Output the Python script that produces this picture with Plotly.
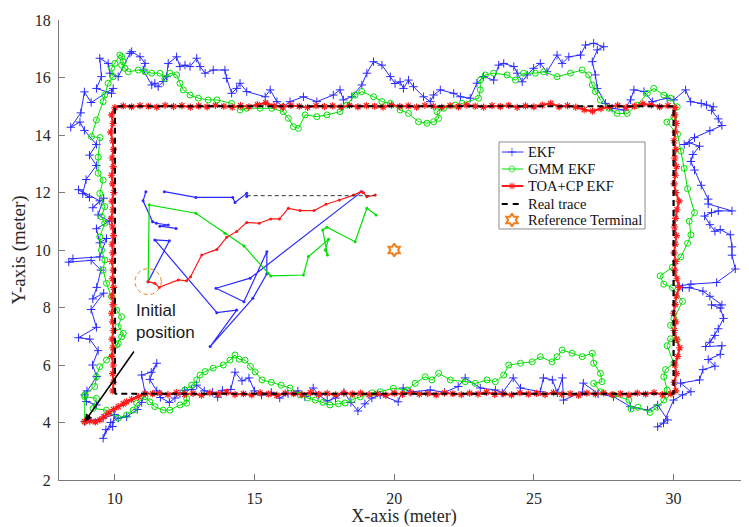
import plotly.graph_objects as go

# ---------------- data (metres) ----------------
REAL_X = [10, 10, 30, 30, 10]
REAL_Y = [5, 15, 15, 5, 5]

REF_TERMINAL_X = [20]
REF_TERMINAL_Y = [10]

EKF_XY = [
    (8.92, 4.03), (9.58, 4.15), (9.98, 4.27), (9.92, 3.86), (9.68, 3.75), (9.58, 3.45), (9.85, 4.0),
    (10.12, 4.15), (10.42, 4.2), (10.8, 4.45), (10.96, 4.7), (11.08, 5.02), (10.96, 5.65), (11.3, 5.75),
    (11.5, 6.06), (11.25, 5.5), (11.5, 5.1), (11.63, 4.87), (11.95, 4.7), (12.15, 4.85), (12.33, 5.0),
    (12.5, 5.12), (12.75, 5.15), (12.93, 5.3), (13.2, 5.1), (13.5, 5.05), (13.68, 4.88), (13.85, 5.12),
    (14.15, 5.15), (14.3, 5.75), (14.55, 5.45), (14.8, 5.55), (15.0, 5.1), (15.25, 4.95), (15.6, 5.05),
    (15.9, 4.85), (16.2, 5.0), (16.55, 5.1), (16.8, 4.9), (17.1, 5.2), (17.3, 4.95), (17.6, 4.75),
    (17.9, 4.85), (18.2, 5.05), (18.45, 4.7), (18.7, 4.4), (18.95, 4.65), (19.2, 4.85), (19.5, 4.96),
    (20.14, 4.72), (20.32, 5.2), (20.57, 5.06), (21.29, 5.13), (21.8, 5.05), (22.29, 5.25), (22.54, 5.55),
    (23.08, 5.2), (23.62, 5.13), (23.87, 5.03), (24.26, 5.55), (24.52, 5.2), (25.23, 5.07), (25.34, 5.55),
    (25.66, 5.48), (25.84, 5.03), (26.02, 5.55), (26.06, 4.78), (26.74, 5.06), (26.77, 5.37), (27.3, 5.0),
    (27.85, 4.9), (28.46, 4.55), (29.07, 4.43), (29.43, 4.61), (29.79, 4.09), (29.43, 3.85), (29.64, 3.98),
    (30.0, 4.78), (30.32, 4.96), (30.62, 5.07), (30.25, 5.37), (30.93, 5.48), (31.05, 5.84), (31.48, 5.96),
    (31.24, 6.19), (31.67, 6.37), (31.73, 6.67), (31.15, 6.64), (31.48, 7.03), (31.30, 6.79), (31.60, 7.26),
    (31.79, 7.62), (31.67, 7.98), (31.36, 8.09), (31.73, 8.09), (31.30, 8.39), (31.05, 8.57), (30.56, 8.69),
    (30.32, 8.69), (30.20, 8.75), (30.62, 8.81), (31.54, 8.87), (32.21, 9.34), (32.09, 9.82), (32.09, 10.11),
    (32.03, 10.53), (31.67, 10.71), (31.48, 10.65), (31.30, 10.88), (31.11, 11.18), (31.36, 11.30),
    (31.60, 11.36), (32.09, 11.36), (31.24, 11.60), (31.24, 11.77), (30.99, 12.25), (30.75, 12.78),
    (30.62, 13.08), (30.69, 13.32), (30.93, 13.61), (30.56, 13.73), (30.38, 13.67), (30.75, 13.91),
    (31.30, 14.15), (31.73, 14.33), (31.60, 14.56), (31.36, 14.86), (31.42, 14.98), (31.18, 15.04),
    (30.99, 15.10), (30.61, 15.16), (30.43, 15.57), (30.01, 15.22), (29.77, 15.28), (29.24, 15.16),
    (28.94, 15.51), (28.58, 15.57), (28.46, 15.22), (28.22, 14.87), (27.80, 14.93), (27.56, 15.10),
    (27.27, 15.62), (27.20, 16.09), (27.09, 16.55), (27.27, 16.96), (27.50, 17.07), (27.14, 17.19),
    (26.85, 17.13), (26.67, 16.78), (26.25, 16.72), (26.01, 16.49), (25.83, 16.78), (25.47, 16.20),
    (25.23, 16.49), (24.99, 16.32), (24.76, 16.09), (24.58, 15.85), (24.40, 16.15), (24.28, 16.38),
    (23.92, 16.49), (23.74, 16.43), (23.56, 15.91), (23.20, 16.03), (22.96, 15.80), (22.72, 15.28),
    (22.37, 15.33), (22.13, 15.45), (21.65, 15.57), (21.41, 15.39), (21.29, 15.16), (21.05, 15.33),
    (20.69, 15.68), (20.51, 15.91), (20.33, 15.62), (20.21, 15.85), (20.03, 15.79), (19.86, 16.03),
    (19.56, 16.43), (19.26, 16.55), (19.02, 16.15), (18.84, 15.74), (18.48, 15.33), (18.18, 15.22),
    (18.06, 15.57), (17.82, 15.39), (17.23, 15.16), (16.75, 15.33), (16.27, 15.16), (16.03, 14.98),
    (15.80, 15.16), (15.56, 15.57), (15.38, 15.33), (14.72, 15.51), (14.48, 15.80), (14.36, 15.62),
    (14.18, 15.45), (14.00, 15.97), (13.94, 16.26), (13.52, 16.26), (13.23, 16.15), (13.05, 16.38),
    (12.93, 16.67), (12.69, 16.38), (12.51, 16.43), (12.33, 16.38), (12.21, 16.72), (11.91, 16.49),
    (11.85, 16.03), (11.73, 15.86), (11.55, 15.68), (11.43, 15.80), (11.32, 15.74), (11.01, 16.26),
    (11.08, 16.49), (10.90, 16.72), (10.60, 16.90), (10.54, 16.84), (10.12, 16.03), (9.82, 16.15),
    (9.76, 16.49), (9.46, 16.67), (9.52, 16.03), (9.34, 15.62), (9.88, 15.45), (9.94, 15.62),
    (9.15, 15.13), (8.91, 15.5), (8.78, 14.77), (8.42, 14.27), (8.75, 14.45), (8.91, 14.16), (9.34, 13.67),
    (9.09, 13.3), (9.34, 12.94), (8.97, 12.45), (8.85, 11.96), (9.09, 11.83), (8.7, 12.1), (9.46, 11.71),
    (9.21, 11.47), (9.6, 11.8), (9.40, 11.22), (9.8, 11.0), (9.34, 10.74), (9.46, 10.25), (9.7, 10.4),
    (9.46, 9.76), (8.5, 9.7), (8.35, 9.58), (9.15, 9.64), (9.5, 9.3), (9.35, 8.7), (9.21, 8.30), (9.6, 8.5),
    (9.15, 7.93), (9.34, 7.31), (8.7, 6.95), (9.1, 6.9), (9.4, 6.5), (9.2, 6.0), (9.35, 5.6), (9.0, 5.1),
    (8.92, 4.96), (8.98, 4.73), (9.34, 4.61),
]

GMM_XY = [
    (8.92, 4.03), (8.92, 4.9), (9.34, 4.84), (9.22, 4.49), (9.70, 4.43), (10.12, 4.15), (10.42, 4.26),
    (10.66, 4.43), (10.78, 4.67), (11.08, 4.90), (11.25, 4.72), (11.43, 4.55), (11.73, 4.43), (11.97, 4.43),
    (12.33, 4.61), (12.57, 4.67), (12.57, 4.84), (12.51, 5.13), (12.75, 5.30), (12.93, 5.48), (13.05, 5.65),
    (13.23, 5.77), (13.52, 5.89), (13.88, 6.00), (14.12, 6.17), (14.30, 6.35), (14.45, 6.2), (14.66, 6.17),
    (14.85, 5.95), (15.02, 5.76), (15.27, 5.48), (15.6, 5.4), (15.95, 5.3), (16.27, 5.20), (16.63, 4.96),
    (16.9, 4.85), (17.17, 4.78), (17.45, 4.7), (17.70, 4.61), (18.0, 4.65), (18.24, 4.68), (18.5, 4.8),
    (18.78, 4.89), (19.21, 5.03), (19.50, 5.07), (19.97, 5.19), (20.46, 5.13), (20.75, 5.36), (21.11, 5.59),
    (21.35, 5.48), (21.59, 5.71), (22.01, 5.48), (22.54, 5.42), (22.90, 5.36), (23.32, 5.48), (23.62, 5.42),
    (23.92, 5.65), (24.10, 6.00), (24.52, 6.06), (24.94, 6.11), (25.23, 6.29), (25.65, 6.11), (25.83, 6.29),
    (26.01, 6.52), (26.37, 6.41), (26.73, 6.29), (27.09, 6.41), (27.14, 6.06), (27.38, 5.71), (27.44, 5.42),
    (27.14, 5.36), (27.38, 5.07), (27.86, 4.96), (28.40, 4.78), (28.48, 4.47), (28.73, 4.53), (29.16, 4.35),
    (29.40, 4.53), (29.65, 4.78), (29.71, 4.95), (29.77, 5.13), (29.65, 5.59), (29.71, 5.84), (30.01, 6.06),
    (29.77, 6.67), (29.89, 6.91), (30.13, 6.87), (29.89, 7.38), (30.01, 7.62), (30.32, 8.21), (29.96, 8.69),
    (29.65, 8.81), (29.52, 9.10), (29.96, 9.40), (30.26, 9.76), (30.50, 10.23), (30.62, 10.53),
    (30.56, 11.00), (30.75, 11.30), (30.50, 12.13), (30.38, 12.84), (30.26, 13.44), (30.14, 14.03),
    (29.76, 14.45), (30.01, 14.63), (30.13, 14.98), (29.89, 15.28), (29.65, 15.39), (29.29, 15.62),
    (29.06, 15.45), (28.70, 15.04), (28.34, 14.75), (27.98, 14.75), (27.68, 14.93), (27.38, 15.22),
    (27.20, 15.51), (27.09, 15.74), (26.96, 16.09), (26.73, 16.26), (26.31, 16.15), (25.83, 16.03),
    (25.35, 16.20), (25.05, 16.15), (24.63, 16.15), (24.34, 15.91), (24.04, 16.09), (23.56, 16.15),
    (23.26, 16.09), (23.08, 15.91), (23.08, 15.57), (23.02, 15.28), (22.43, 15.10), (22.19, 15.04),
    (21.77, 14.93), (21.53, 14.81), (21.59, 14.58), (21.41, 14.46), (21.17, 14.41), (20.87, 14.46),
    (20.51, 14.75), (20.21, 14.87), (19.86, 15.10), (19.56, 15.16), (19.26, 15.33), (18.84, 15.51),
    (18.60, 15.39), (18.30, 15.04), (18.06, 14.81), (17.59, 14.70), (17.23, 14.64), (16.81, 14.70),
    (16.57, 14.23), (16.39, 14.29), (16.21, 14.58), (16.03, 14.81), (15.62, 14.93), (15.20, 14.93),
    (14.72, 14.93), (14.48, 14.87), (14.18, 15.10), (13.65, 15.22), (13.34, 15.22), (12.99, 15.28),
    (12.69, 15.39), (12.45, 15.57), (12.33, 15.80), (12.21, 16.09), (11.97, 16.15), (11.79, 15.97),
    (11.61, 16.15), (11.32, 16.15), (11.08, 16.20), (10.84, 16.26), (10.48, 16.20), (10.36, 16.32),
    (10.24, 16.43), (10.30, 16.55), (10.24, 16.72), (10.18, 16.78), (10.00, 16.49), (9.88, 16.32),
    (9.94, 16.03), (9.76, 15.80), (9.64, 15.39), (9.58, 15.16), (9.34, 14.52), (9.16, 13.94), (9.47, 13.91),
    (9.40, 13.23), (9.40, 12.67), (9.58, 12.43), (9.46, 11.97), (9.64, 11.51), (9.52, 11.16), (9.64, 10.93),
    (9.46, 10.46), (9.52, 10.0), (9.64, 9.65), (9.58, 9.30), (9.70, 8.84), (9.88, 8.38), (10.06, 7.91),
    (10.24, 7.68), (10.12, 7.33), (10.30, 7.10), (10.24, 6.98), (10.06, 6.70), (10.12, 6.75), (9.70, 6.17),
    (9.46, 5.94), (9.34, 5.59), (9.28, 5.25), (8.92, 4.96),
]

TOA_START_XY = [
    (8.92, 4.03), (9.1, 4.05), (9.3, 4.02), (9.46, 4.09), (9.6, 4.2), (9.76, 4.32), (9.95, 4.45),
    (10.12, 4.55), (10.3, 4.65), (10.42, 4.72), (10.6, 4.8), (10.84, 4.9), (11.08, 5.01), (11.35, 5.0),
]
TOA_BOTTOM_X = [11.6, 11.9, 12.2, 12.5, 12.8, 13.1, 13.4, 13.7, 14.0, 14.3, 14.6, 14.9, 15.2, 15.5, 15.8,
                16.1, 16.4, 16.7, 17.0, 17.3, 17.6, 17.9, 18.2, 18.5, 18.8, 19.1, 19.4, 19.7, 20.0, 20.3,
                20.6, 20.9, 21.2, 21.5, 21.8, 22.1, 22.4, 22.7, 23.0, 23.3, 23.6, 23.9, 24.2, 24.5, 24.8,
                25.1, 25.4, 25.7, 26.0, 26.3, 26.6, 26.9, 27.2, 27.5, 27.8, 28.1, 28.4, 28.7, 29.0, 29.3,
                29.6, 29.9]
TOA_BOTTOM_Y = [5.02, 4.97, 5.04, 4.98, 5.01, 4.95, 5.03, 4.99, 5.05, 4.97, 5.0, 4.96, 5.03, 4.99, 4.95,
                5.02, 5.0, 4.97, 5.04, 4.98, 5.01, 4.96, 5.03, 4.99, 5.02, 4.97, 5.0, 4.95, 5.02, 4.98,
                5.04, 4.99, 5.01, 4.96, 5.03, 5.0, 4.97, 5.02, 4.99, 5.05, 4.98, 5.0, 4.96, 5.03, 4.99,
                5.01, 4.97, 5.04, 4.98, 5.0, 4.95, 5.02, 4.99, 5.03, 4.97, 5.0, 4.96, 5.02, 4.99, 5.04,
                4.97, 5.0]
TOA_RIGHT_Y = [5.1, 5.4, 5.7, 6.0, 6.3, 6.6, 6.9, 7.2, 7.5, 7.8, 8.1, 8.4, 8.7, 9.0, 9.3, 9.6, 9.9, 10.2,
               10.5, 10.8, 11.1, 11.4, 11.7, 12.0, 12.3, 12.6, 12.9, 13.2, 13.5, 13.8, 14.1, 14.4, 14.7, 14.95]
TOA_RIGHT_X = [30.08, 30.02, 30.1, 30.05, 30.15, 30.22, 30.1, 30.03, 30.08, 30.0, 30.06, 30.1, 30.2, 30.12,
               30.04, 30.08, 30.02, 30.06, 30.1, 30.03, 30.07, 30.12, 30.2, 30.08, 30.02, 30.06, 30.1, 30.04,
               30.08, 30.02, 30.06, 30.1, 30.04, 30.05]
TOA_TOP_X = [29.8, 29.5, 29.2, 28.9, 28.6, 28.3, 28.0, 27.7, 27.4, 27.1, 26.8, 26.5, 26.2, 25.9, 25.6, 25.3,
             25.0, 24.7, 24.4, 24.1, 23.8, 23.5, 23.2, 22.9, 22.6, 22.3, 22.0, 21.7, 21.4, 21.1, 20.8, 20.5,
             20.2, 19.9, 19.6, 19.3, 19.0, 18.7, 18.4, 18.1, 17.8, 17.5, 17.2, 16.9, 16.6, 16.3, 16.0, 15.7,
             15.4, 15.1, 14.8, 14.5, 14.2, 13.9, 13.6, 13.3, 13.0, 12.7, 12.4, 12.1, 11.8, 11.5, 11.2, 10.9,
             10.6, 10.3, 10.0]
TOA_TOP_Y = [15.02, 14.98, 15.05, 15.08, 15.0, 14.96, 15.03, 14.97, 14.92, 14.83, 14.88, 14.97, 15.02, 14.98,
             15.1, 15.04, 14.98, 15.01, 14.96, 15.03, 14.99, 15.02, 14.97, 15.0, 15.04, 14.98, 15.02, 14.96,
             15.0, 15.03, 14.97, 15.01, 14.99, 15.04, 14.97, 15.0, 15.02, 14.98, 15.03, 14.97, 15.01, 14.99,
             15.02, 14.96, 15.0, 15.03, 14.98, 15.01, 15.12, 15.05, 14.98, 15.02, 14.97, 15.0, 15.03, 14.98,
             15.01, 14.97, 15.02, 14.99, 15.03, 14.97, 15.0, 15.02, 14.98, 15.01, 14.95]
TOA_LEFT_Y = [14.7, 14.4, 14.1, 13.8, 13.5, 13.2, 12.9, 12.6, 12.3, 12.0, 11.7, 11.4, 11.1, 10.8, 10.5, 10.2,
              9.9, 9.6, 9.3, 9.0, 8.7, 8.4, 8.1, 7.8, 7.5, 7.2, 6.9, 6.6, 6.3, 6.0, 5.7, 5.4, 5.1]
TOA_LEFT_X = [9.88, 9.93, 9.85, 9.92, 9.95, 9.9, 9.94, 9.88, 9.92, 9.96, 9.9, 9.93, 9.87, 9.92, 9.95, 9.9,
              9.93, 9.89, 9.94, 9.91, 9.95, 9.9, 9.93, 9.88, 9.92, 9.95, 9.9, 9.93, 9.89, 9.94, 9.92, 9.95, 9.93]

# inset: magnified first steps of each filter
INSET_TOA_XY = [
    (11.19, 8.90), (11.43, 8.84), (11.59, 8.70), (12.27, 8.96), (12.57, 8.93), (12.71, 9.07), (13.11, 9.83),
    (13.65, 10.02), (14.00, 10.44), (14.36, 10.64), (14.72, 10.96), (15.17, 10.93), (15.58, 11.08),
    (15.89, 11.08), (16.21, 11.45), (16.63, 11.37), (17.13, 11.37), (17.56, 11.59), (18.04, 11.74),
    (18.54, 11.91), (18.81, 12.03), (18.90, 11.99), (19.02, 11.85), (19.32, 11.91),
]
INSET_GMM_XY = [
    (11.19, 8.90), (11.23, 11.57), (12.90, 11.28), (13.94, 10.58), (14.62, 10.14), (15.49, 9.19),
    (15.58, 9.10), (16.75, 9.13), (16.93, 9.77), (17.65, 10.37), (17.53, 10.0), (17.61, 9.83),
    (17.44, 10.70), (17.59, 10.79), (18.60, 10.29), (19.02, 11.45), (19.35, 11.22),
]
INSET_EKF_XY = [
    (11.19, 8.90), (11.95, 10.32), (11.43, 10.35), (13.65, 7.82), (14.36, 7.91), (13.41, 6.64),
    (14.94, 8.32), (15.44, 9.17), (15.44, 9.94), (14.62, 8.20), (13.62, 8.67), (14.84, 9.02), (18.84, 12.03),
]
INSET_EKF_TOP_XY = [(11.77, 12.03), (12.90, 11.83), (14.22, 11.83), (14.30, 11.65), (14.72, 11.97), (14.72, 11.86)]
INSET_EKF_LEFT_XY = [(11.11, 12.03), (11.01, 11.71), (11.35, 10.98), (11.49, 10.93), (11.91, 10.87),
                     (11.61, 10.83), (12.19, 10.75)]
INSET_REAL_X = [14.72, 19.32]
INSET_REAL_Y = [11.89, 11.89]

X_TICKS = [10, 15, 20, 25, 30]
Y_TICKS = [2, 4, 6, 8, 10, 12, 14, 16, 18]

LEGEND_NAMES = ["EKF", "GMM EKF", "TOA+CP EKF", "Real trace", "Reference Terminal"]


def split(pairs):
    return [p[0] for p in pairs], [p[1] for p in pairs]


ekf_x, ekf_y = split(EKF_XY)
gmm_x, gmm_y = split(GMM_XY)
s_x, s_y = split(TOA_START_XY)
toa_x = s_x + TOA_BOTTOM_X + TOA_RIGHT_X + TOA_TOP_X + TOA_LEFT_X
toa_y = s_y + TOA_BOTTOM_Y + TOA_RIGHT_Y + TOA_TOP_Y + TOA_LEFT_Y

BLUE = "#2a2aff"
GREEN = "#00e000"
RED = "#ff1a1a"
ORANGE = "#f07f1c"
SERIF = "Liberation Serif"

STYLES = [
    dict(mode="lines+markers", line=dict(color=BLUE, width=1),
         marker=dict(symbol="cross-thin-open", size=6, color=BLUE, line=dict(color=BLUE, width=1))),
    dict(mode="lines+markers", line=dict(color=GREEN, width=1),
         marker=dict(symbol="circle-open", size=6, color=GREEN, line=dict(color=GREEN, width=1))),
    dict(mode="lines+markers", line=dict(color=RED, width=2),
         marker=dict(symbol="asterisk-open", size=6, color=RED, line=dict(color=RED, width=1.2))),
    dict(mode="lines", line=dict(color="black", width=2.2, dash="6px,4px")),
    dict(mode="markers", marker=dict(symbol="hexagram-open", size=10, color=ORANGE,
                                     line=dict(color=ORANGE, width=2))),
]

fig = go.Figure()
series = [(ekf_x, ekf_y), (gmm_x, gmm_y), (toa_x, toa_y), (REAL_X, REAL_Y), (REF_TERMINAL_X, REF_TERMINAL_Y)]
for (sx, sy), name, st in zip(series, LEGEND_NAMES, STYLES):
    fig.add_trace(go.Scatter(x=sx, y=sy, name=name, showlegend=False, **st))

# inset traces
for pairs, col in [(INSET_EKF_TOP_XY, BLUE), (INSET_EKF_LEFT_XY, BLUE), (INSET_EKF_XY, BLUE),
                   (INSET_GMM_XY, GREEN), (INSET_TOA_XY, RED)]:
    ix, iy = split(pairs)
    fig.add_trace(go.Scatter(x=ix, y=iy, mode="lines+markers", showlegend=False, hoverinfo="skip",
                             line=dict(color=col, width=1.2), marker=dict(color=col, size=3)))
fig.add_trace(go.Scatter(x=INSET_REAL_X, y=INSET_REAL_Y, mode="lines", showlegend=False, hoverinfo="skip",
                         line=dict(color="#333333", width=1, dash="4px,3px")))

fig.add_shape(type="circle", xref="x", yref="y", x0=10.72, x1=11.66, y0=8.45, y1=9.35,
              line=dict(color=ORANGE, width=1, dash="4px,3px"))

fig.add_annotation(x=8.92, y=4.03, ax=10.72, ay=6.52, xref="x", yref="y", axref="x", ayref="y",
                   text="", showarrow=True, arrowhead=2, arrowsize=1, arrowwidth=1.5, arrowcolor="black")
fig.add_annotation(x=10.68, y=7.5, xref="x", yref="y", text="Initial<br>position", showarrow=False,
                   xanchor="left", yanchor="middle", align="left",
                   font=dict(family="Liberation Sans", size=17, color="#1a1a1a"))

# ---- MATLAB-style compact legend (box, samples on an overlay axis, labels) ----
LEG_X0, LEG_X1, LEG_Y0, LEG_Y1 = 0.6377, 0.8493, 0.5457, 0.7348
ROW_Y = [0.7130, 0.6761, 0.6391, 0.6000, 0.5652]
SAMPLE_X = [0.6416, 0.6565, 0.6729]
fig.add_shape(type="rect", xref="paper", yref="paper", x0=LEG_X0, x1=LEG_X1, y0=LEG_Y0, y1=LEG_Y1,
              line=dict(color="#8c8c8c", width=1), fillcolor="white", layer="below")
for name, st, ry in zip(LEGEND_NAMES, STYLES, ROW_Y):
    st2 = {k: v for k, v in st.items()}
    if name == "Real trace":
        st2 = dict(mode="lines", line=dict(color="black", width=2.2, dash="6px,5px"))
    if "marker" in st2 and st2["mode"] != "markers":
        mk = dict(st2["marker"])
        mk["size"] = [0, mk["size"], 0]
        st2["marker"] = mk
    sx = SAMPLE_X if st2["mode"] != "markers" else [SAMPLE_X[1]]
    fig.add_trace(go.Scatter(x=sx, y=[ry] * len(sx), xaxis="x2", yaxis="y2", showlegend=False,
                             hoverinfo="skip", **st2))
    fig.add_annotation(x=0.6768, y=ry, xref="paper", yref="paper", text=name, showarrow=False,
                       xanchor="left", yanchor="middle",
                       font=dict(family=SERIF, size=14.5, color="#111111"))

axis_common = dict(showgrid=False, zeroline=False, showline=True, linecolor="#7a7a7a", linewidth=1,
                   ticks="inside", ticklen=6, tickcolor="#7a7a7a", tickwidth=1,
                   tickfont=dict(family=SERIF, size=16, color="#262626"))

# the page body has an 8px margin, so the figure is 8px smaller than the window
fig.update_layout(
    width=741, height=519,
    margin=dict(l=51, r=0, t=12, b=47),
    paper_bgcolor="white", plot_bgcolor="white",
    xaxis=dict(range=[8, 32.7], tickvals=X_TICKS, ticklabelstandoff=4,
               title=dict(text="X-axis (meter)", standoff=7,
                          font=dict(family=SERIF, size=18, color="#262626")), **axis_common),
    yaxis=dict(range=[2, 18], tickvals=Y_TICKS, ticklabelstandoff=4,
               title=dict(text="Y-axis (meter)", standoff=6,
                          font=dict(family=SERIF, size=19, color="#262626")), **axis_common),
    xaxis2=dict(range=[0, 1], overlaying="x", anchor="y2", visible=False, fixedrange=True),
    yaxis2=dict(range=[0, 1], overlaying="y", anchor="x2", visible=False, fixedrange=True),
    showlegend=False,
)

fig.write_html("out.html")
